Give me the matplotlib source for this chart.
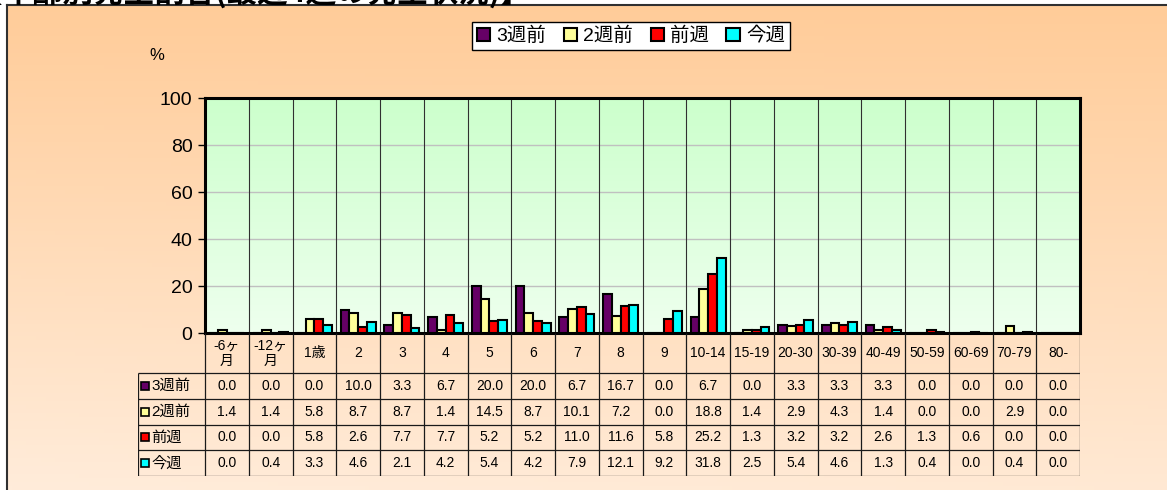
import numpy as np
import matplotlib
matplotlib.use("Agg")
import matplotlib.pyplot as plt
from matplotlib.patches import Patch, Rectangle

plt.rcParams["font.family"] = ["Liberation Sans", "Noto Sans CJK JP"]

# --- data ---
categories = ["-6ヶ\n月", "-12ヶ\n月", "1歳", "2", "3", "4", "5", "6", "7", "8", "9",
              "10-14", "15-19", "20-30", "30-39", "40-49", "50-59", "60-69", "70-79", "80-"]
series_names = ["3週前", "2週前", "前週", "今週"]
week3 = [0.0, 0.0, 0.0, 10.0, 3.3, 6.7, 20.0, 20.0, 6.7, 16.7, 0.0, 6.7, 0.0, 3.3, 3.3, 3.3, 0.0, 0.0, 0.0, 0.0]
week2 = [1.4, 1.4, 5.8, 8.7, 8.7, 1.4, 14.5, 8.7, 10.1, 7.2, 0.0, 18.8, 1.4, 2.9, 4.3, 1.4, 0.0, 0.0, 2.9, 0.0]
week1 = [0.0, 0.0, 5.8, 2.6, 7.7, 7.7, 5.2, 5.2, 11.0, 11.6, 5.8, 25.2, 1.3, 3.2, 3.2, 2.6, 1.3, 0.6, 0.0, 0.0]
week0 = [0.0, 0.4, 3.3, 4.6, 2.1, 4.2, 5.4, 4.2, 7.9, 12.1, 9.2, 31.8, 2.5, 5.4, 4.6, 1.3, 0.4, 0.0, 0.4, 0.0]
yticks = [0, 20, 40, 60, 80, 100]

series = [week3, week2, week1, week0]
colors = ["#660066", "#FFFF99", "#FF0000", "#00FFFF"]

W, H = 1167, 490
fig = plt.figure(figsize=(W / 100, H / 100), dpi=100, facecolor="white")

# chart area background (orange gradient)
bg = fig.add_axes([7 / W, 0, 1 - 7 / W, 1 - 5 / H], zorder=-10)
ty = np.linspace(0, 1, 120)[:, None]
tx = np.linspace(0, 1, 240)[None, :]
t = np.clip(0.9 * ty + 0.1 * (1 - tx) * ty, 0, 1)
top = np.array([255, 204, 153]) / 255
bot = np.array([255, 236, 218]) / 255
grad = top[None, None, :] * (1 - t[..., None]) + bot[None, None, :] * t[..., None]
bg.imshow(grad, extent=[0, 1, 0, 1], aspect="auto", origin="upper")
bg.set_xticks([])
bg.set_yticks([])
for s in ["right", "bottom"]:
    bg.spines[s].set_visible(False)
for s in ["left", "top"]:
    bg.spines[s].set_color("#303030")
    bg.spines[s].set_linewidth(1.5)

# title, mostly cut off at the top edge (as in the source)
fig.text(-28 / W, 1 - 2 / H, "【年齢別発生割合(最近4週の発生状況)】", fontsize=22,
         fontweight="bold", va="baseline", ha="left",
         family=["Noto Sans CJK JP", "DejaVu Sans"])

# main plot area
L, R, T, B = 205, 1080, 98, 333
ax = fig.add_axes([L / W, 1 - B / H, (R - L) / W, (B - T) / H])
n = len(categories)
x = np.arange(n)
pg = np.linspace(0, 1, 100)[:, None]
gtop = np.array([204, 255, 204]) / 255
gbot = np.array([238, 255, 238]) / 255
pgrad = gtop[None, :] * (1 - pg) + gbot[None, :] * pg
ax.imshow(pgrad[:, None, :], extent=[-0.5, n - 0.5, 0, 100], aspect="auto",
          origin="upper", zorder=0)

bw = 0.2
for k, (vals, col) in enumerate(zip(series, colors)):
    ax.bar(x + (k - 1.5) * bw, vals, width=bw, color=col, edgecolor="black",
           linewidth=1.5, zorder=3)

ax.vlines(x[:-1] + 0.5, 0, 100, color="#303030", linewidth=0.8, zorder=2)
ax.set_xlim(-0.5, n - 0.5)
ax.set_ylim(0, 100)
ax.set_xticks([])
ax.set_yticks(yticks)
ax.tick_params(axis="y", labelsize=14, length=5, width=1, pad=4)
ax.yaxis.grid(True, color="#C0C0C0", linewidth=1)
ax.set_axisbelow(True)
for s in ax.spines.values():
    s.set_linewidth(2.2)
    s.set_color("black")

fig.text(157 / W, 1 - 55 / H, "%", fontsize=12, ha="center", va="center")

# legend
handles = [Patch(facecolor=c, edgecolor="black", linewidth=1.5) for c in colors]
fig.legend(handles, series_names, loc="upper left", bbox_to_anchor=(472 / W, 1 - 22 / H),
           ncol=4, fontsize=14, frameon=True, fancybox=False, edgecolor="black",
           framealpha=1, borderpad=0.25, handlelength=0.7, handleheight=0.7,
           handletextpad=0.3, columnspacing=0.9, borderaxespad=0)

# data table under the plot
TL, TB = 138, 476
colw = (R - L) / n
xmin = -0.5 - (L - TL) / colw
tab = fig.add_axes([TL / W, 1 - TB / H, (R - TL) / W, (TB - B) / H])
tab.set_xlim(xmin, n - 0.5)
tab.set_ylim(TB - B, 0)
tab.axis("off")
tab.patch.set_alpha(0)

head_h = 40
row_h = (TB - B - head_h) / 4
lc = "#1a1a1a"
tab.vlines(np.arange(n + 1) - 0.5, 0, TB - B, color=lc, linewidth=0.9)
tab.vlines(xmin, head_h, TB - B, color=lc, linewidth=0.9)
tab.hlines([head_h + r * row_h for r in range(5)], xmin, n - 0.5, color=lc, linewidth=0.9)

for i, c in enumerate(categories):
    tab.text(i, head_h / 2, c, ha="center", va="center", fontsize=10, linespacing=1.1)

for r, (name, vals, col) in enumerate(zip(series_names, series, colors)):
    yc = head_h + (r + 0.5) * row_h
    tab.add_patch(Rectangle((xmin + 3 / colw, yc - 4), 8 / colw, 8, facecolor=col,
                            edgecolor="black", linewidth=1.2))
    tab.text(xmin + 13 / colw, yc, name, ha="left", va="center", fontsize=11)
    for i, v in enumerate(vals):
        tab.text(i, yc, f"{v:.1f}", ha="center", va="center", fontsize=10)

fig.savefig("out.png", dpi=100)
